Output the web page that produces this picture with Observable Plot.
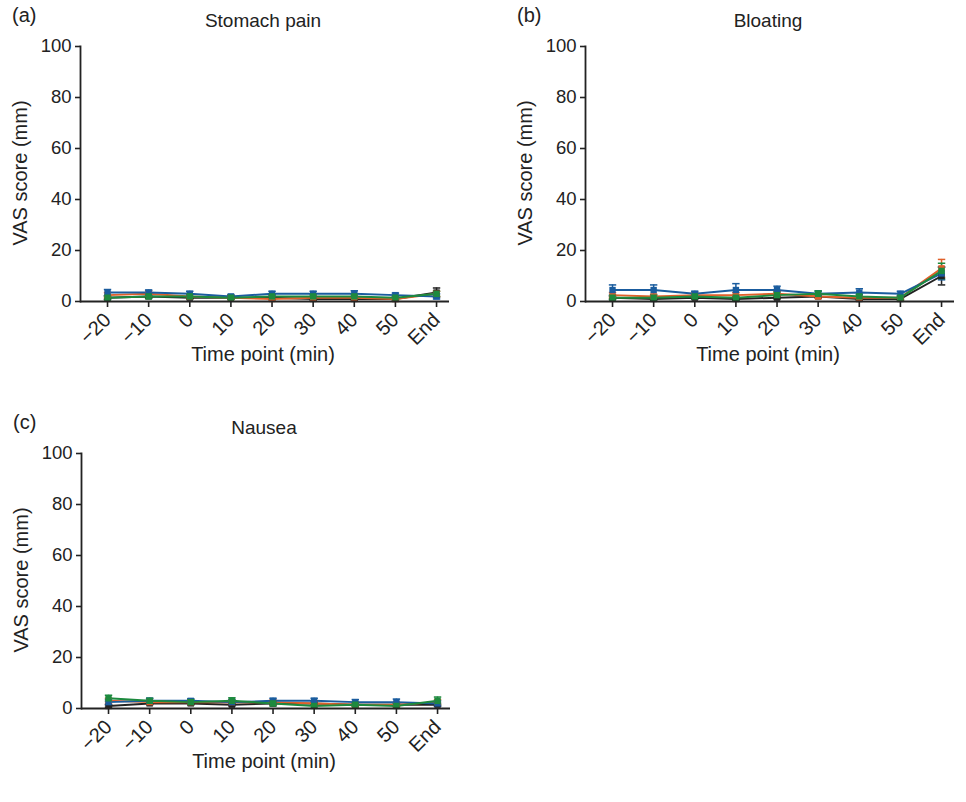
<!DOCTYPE html>
<html>
<head>
<meta charset="utf-8">
<script src="https://cdn.jsdelivr.net/npm/d3@7"></script>
<script src="https://cdn.jsdelivr.net/npm/@observablehq/plot@0.6"></script>
<style>
  body { margin: 0; background: #fff; font-family: "Liberation Sans", Arial, sans-serif; }
  #wrap { position: relative; width: 966px; height: 802px; background: #fff; }
  .panel { position: absolute; }
  .tag { position: absolute; font-size: 20px; color: #222; line-height: 24px; }
  .title { position: absolute; font-size: 19px; color: #222; text-align: center; width: 300px; line-height: 24px; }
  .xlab { position: absolute; font-size: 20px; color: #222; text-align: center; width: 300px; line-height: 24px; }
  .ylab { position: absolute; font-size: 20px; color: #222; text-align: center; width: 260px; line-height: 24px;
          transform: rotate(-90deg); transform-origin: center center; }
</style>
</head>
<body>
<div id="wrap"></div>
<script>
// ---- Data ----
const timeLabels = ["\u221220", "\u221210", "0", "10", "20", "30", "40", "50", "End"];
const seriesKeys = ["S1", "S2", "S3", "S4"];
const seriesColors = ["#222222", "#e0602a", "#1a5c9e", "#1d8a3e"];
const yTicks = [0, 20, 40, 60, 80, 100];

// (a) Stomach pain
const painBlack  = [1.5, 2.0, 1.5, 1.5, 1.5, 1.0, 1.0, 1.0, 3.5];
const painOrange = [2.5, 3.0, 2.0, 1.5, 1.0, 1.5, 1.5, 1.0, 3.0];
const painBlue   = [3.5, 3.5, 3.0, 2.0, 3.0, 3.0, 3.0, 2.5, 2.0];
const painGreen  = [1.5, 2.0, 2.0, 1.5, 2.0, 2.0, 2.0, 1.5, 3.0];
const painBlackErr  = [0.6, 0.6, 0.5, 0.5, 0.5, 0.5, 0.5, 0.5, 1.8];
const painOrangeErr = [1.0, 1.2, 0.8, 0.6, 0.8, 0.6, 0.6, 0.8, 1.0];
const painBlueErr   = [1.2, 1.0, 1.0, 0.7, 1.0, 1.0, 1.2, 0.8, 1.0];
const painGreenErr  = [0.8, 0.8, 0.8, 0.6, 0.8, 0.8, 0.8, 0.6, 1.0];

// (b) Bloating
const bloatBlack  = [1.5, 1.0, 1.5, 1.0, 1.5, 2.0, 1.0, 1.0, 10.0];
const bloatOrange = [2.5, 2.0, 2.5, 2.5, 3.0, 2.0, 1.5, 1.5, 13.0];
const bloatBlue   = [4.5, 4.5, 3.0, 4.5, 4.5, 3.0, 3.5, 3.0, 11.0];
const bloatGreen  = [1.5, 1.5, 2.0, 1.5, 2.5, 3.0, 2.0, 1.5, 12.0];
const bloatBlackErr  = [0.5, 0.5, 0.5, 0.5, 0.5, 0.5, 0.5, 0.5, 3.5];
const bloatOrangeErr = [1.0, 0.8, 1.0, 1.0, 1.0, 0.8, 0.5, 0.5, 3.5];
const bloatBlueErr   = [2.0, 2.0, 1.0, 2.5, 1.5, 1.0, 1.5, 1.0, 2.5];
const bloatGreenErr  = [0.8, 0.8, 0.8, 1.0, 1.2, 1.2, 0.8, 0.8, 3.0];

// (c) Nausea
const nauseaBlack  = [1.0, 2.0, 2.0, 1.5, 2.0, 2.0, 1.5, 1.5, 1.5];
const nauseaOrange = [3.0, 2.5, 2.5, 2.5, 2.5, 2.0, 1.5, 1.5, 2.5];
const nauseaBlue   = [2.5, 3.0, 3.0, 2.5, 3.0, 3.0, 2.5, 2.5, 2.0];
const nauseaGreen  = [4.0, 3.0, 2.5, 3.0, 2.0, 1.0, 1.5, 1.0, 3.0];
const nauseaBlackErr  = [0.5, 0.5, 0.5, 0.5, 0.5, 0.5, 0.5, 0.5, 0.6];
const nauseaOrangeErr = [1.0, 0.8, 0.8, 0.8, 0.8, 0.8, 0.8, 0.8, 1.0];
const nauseaBlueErr   = [1.0, 1.0, 0.8, 1.0, 1.0, 1.0, 1.0, 1.2, 1.0];
const nauseaGreenErr  = [1.2, 1.0, 1.0, 1.2, 1.0, 0.8, 0.8, 0.8, 1.5];

const xTitle = "Time point (min)";
const yTitle = "VAS score (mm)";

const panels = [
  {tag: "(a)", title: "Stomach pain", left: 0, top: 0,
   means: [painBlack, painOrange, painBlue, painGreen],
   errs: [painBlackErr, painOrangeErr, painBlueErr, painGreenErr]},
  {tag: "(b)", title: "Bloating", left: 505, top: 0,
   means: [bloatBlack, bloatOrange, bloatBlue, bloatGreen],
   errs: [bloatBlackErr, bloatOrangeErr, bloatBlueErr, bloatGreenErr]},
  {tag: "(c)", title: "Nausea", left: 1, top: 407,
   means: [nauseaBlack, nauseaOrange, nauseaBlue, nauseaGreen],
   errs: [nauseaBlackErr, nauseaOrangeErr, nauseaBlueErr, nauseaGreenErr]}
];

const wrap = document.getElementById("wrap");
const FONT = "Liberation Sans, Arial, sans-serif";

for (const p of panels) {
  const rows = [];
  p.means.forEach((arr, s) => arr.forEach((v, i) => rows.push({
    series: seriesKeys[s], i, label: timeLabels[i], v, e: p.errs[s][i]
  })));

  const plot = Plot.plot({
    width: 483,
    height: 400,
    marginLeft: 80,
    marginRight: 34,
    marginTop: 46,
    marginBottom: 99,
    style: {fontFamily: FONT, fontSize: "18px", color: "#222", background: "transparent"},
    x: {domain: [-0.657, 8.315]},
    y: {domain: [0, 100]},
    color: {domain: seriesKeys, range: seriesColors},
    marks: [
      Plot.axisX({ticks: d3.range(timeLabels.length), tickFormat: i => timeLabels[i],
        tickRotate: -45, tickSize: 6, tickPadding: 9, fontSize: 20, fontFamily: FONT,
        stroke: "#222", strokeWidth: 1.6, label: null}),
      Plot.axisY({ticks: yTicks, tickSize: 5, tickPadding: 4, fontSize: 18.5, fontFamily: FONT,
        stroke: "#222", strokeWidth: 1.6, label: null}),
      Plot.frame({anchor: "left", stroke: "#222", strokeWidth: 1.8}),
      Plot.ruleX(rows, {x: "i", y1: d => d.v - d.e, y2: d => d.v + d.e, stroke: "series", strokeWidth: 1.5}),
      Plot.link(rows, {x1: d => d.i - 0.09, x2: d => d.i + 0.09, y1: d => d.v + d.e, y2: d => d.v + d.e, stroke: "series", strokeWidth: 1.5}),
      Plot.link(rows, {x1: d => d.i - 0.09, x2: d => d.i + 0.09, y1: d => d.v - d.e, y2: d => d.v - d.e, stroke: "series", strokeWidth: 1.5}),
      Plot.line(rows, {x: "i", y: "v", z: "series", stroke: "series", strokeWidth: 2}),
      Plot.dot(rows, {x: "i", y: "v", fill: "series", symbol: "square", r: 3.6}),
      Plot.ruleY([0], {stroke: "#222", strokeWidth: 1.8})
    ]
  });
  plot.classList.add("panel");
  plot.style.left = p.left + "px";
  plot.style.top = p.top + "px";
  wrap.appendChild(plot);

  const tag = document.createElement("div");
  tag.className = "tag";
  tag.textContent = p.tag;
  tag.style.left = (p.left + 12) + "px";
  tag.style.top = (p.top + 3) + "px";
  wrap.appendChild(tag);

  const title = document.createElement("div");
  title.className = "title";
  title.textContent = p.title;
  title.style.left = (p.left + 263 - 150) + "px";
  title.style.top = (p.top + 9) + "px";
  wrap.appendChild(title);

  const xl = document.createElement("div");
  xl.className = "xlab";
  xl.textContent = xTitle;
  xl.style.left = (p.left + 263 - 150) + "px";
  xl.style.top = (p.top + 342) + "px";
  wrap.appendChild(xl);

  const yl = document.createElement("div");
  yl.className = "ylab";
  yl.textContent = yTitle;
  yl.style.left = (p.left + 20 - 130) + "px";
  yl.style.top = (p.top + 173 - 12) + "px";
  wrap.appendChild(yl);
}
</script>
</body>
</html>
